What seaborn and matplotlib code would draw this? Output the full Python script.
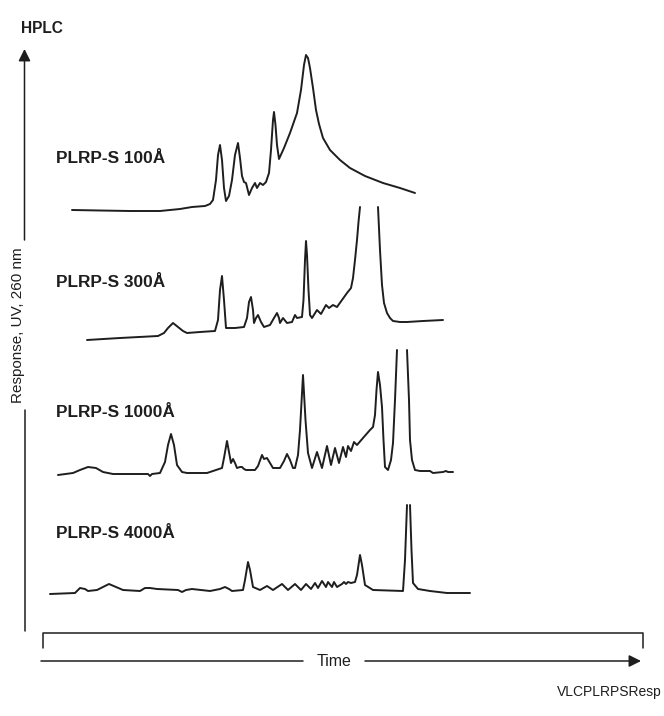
import numpy as np
import pandas as pd
import seaborn as sns
import matplotlib.pyplot as plt

nan = np.nan

columns = ["PLRP-S 100Å", "PLRP-S 300Å", "PLRP-S 1000Å", "PLRP-S 4000Å"]

# retention time (arbitrary units) and UV response above each trace's baseline
time_100 = [72, 100, 130, 160, 180, 192, 205, 210, 213, 216,
            218, 220, 222, 224, 226, 229, 232, 235, 238, 240,
            242, 244, 246, 249, 252, 255, 257, 260, 263, 266,
            269, 271, 273, 274, 275.5, 277, 279, 284, 290, 297,
            301, 304, 306, 308, 310, 313, 316, 319, 323, 330,
            340, 350, 365, 383, 400, 415]
resp_100 = [1, 0.5, 0, 0, 2, 4, 5, 7, 11, 31,
            56, 66, 51, 23, 10, 15, 31, 56, 68, 53,
            35, 29, 28, 16, 23, 28, 23, 28, 26, 29,
            38, 61, 91, 99, 86, 66, 52, 63, 78, 98,
            121, 146, 156, 153, 143, 123, 101, 87, 73, 61,
            51, 43, 35, 28, 23, 18]

# nan marks where the off-scale peak is cut
time_300 = [87, 120, 158, 164, 168, 173, 178, 183, 187, 200,
            215, 218, 220, 222, 224, 226, 235, 244, 247, 249,
            251, 253, 254, 256, 258, 261, 264, 270, 274, 277,
            279, 280, 283, 287, 292, 295, 297, 302, 303.5, 305,
            306, 307, 308.5, 310, 312, 317, 321, 326, 329, 333,
            337, 342, 347, 351, 353, 355, 357, 358.5, 360,
            nan,
            378, 380, 382, 384, 387, 390, 393, 400, 407, 423, 443]
resp_300 = [0, 2, 4, 7, 12, 17, 13, 9, 7, 8,
            9, 20, 50, 64, 40, 12, 12, 13, 22, 38,
            43, 30, 17, 22, 25, 18, 13, 15, 22, 27,
            22, 17, 22, 17, 18, 25, 22, 23, 40, 80,
            99, 85, 50, 25, 22, 30, 26, 35, 32, 35,
            33, 40, 47, 52, 62, 80, 100, 118, 133,
            nan,
            133, 90, 55, 37, 27, 22, 19, 18, 18, 19, 20]

time_1000 = [58, 73, 80, 88, 96, 103, 113, 123, 148, 150,
             152, 160, 165, 168, 171, 174, 177, 182, 187, 207,
             222, 224, 227, 229, 231, 233, 235, 237, 240, 242,
             244, 246, 255, 258, 262, 264, 267, 270, 273, 280,
             284, 287, 290, 293, 295, 298, 300, 303, 305.5, 308,
             312, 317, 322, 327, 331, 335, 339, 343, 346, 348,
             351, 354, 357, 363, 370, 373, 375, 376.5, 378, 380,
             382, 383.5, 385, 388, 391, 393, 395, 397,
             nan,
             407, 409, 410, 412, 415, 420, 430, 433, 443, 446, 448, 453]
resp_1000 = [0, 2, 5, 8, 7, 3, 1, 1, 1, -1,
             1, 2, 13, 30, 41, 30, 10, 3, 2, 2,
             7, 17, 34, 23, 12, 16, 12, 7, 8, 8,
             6, 5, 5, 9, 20, 16, 17, 12, 7, 7,
             14, 21, 15, 7, 7, 20, 45, 100, 55, 22,
             7, 23, 7, 29, 10, 27, 12, 28, 18, 29,
             24, 33, 30, 37, 45, 48, 60, 85, 103, 90,
             68, 35, 8, 5, 15, 32, 75, 125,
             nan,
             125, 75, 35, 15, 5, 4, 4, 2, 3, 4, 3, 3]

time_4000 = [50, 75, 80, 85, 88, 97, 103, 109, 116, 123,
             140, 145, 150, 157, 178, 182, 186, 192, 210, 220,
             225, 229, 232, 243, 245, 248, 250, 253, 260, 267,
             273, 282, 288, 295, 301, 306, 311, 315, 318, 322,
             326, 328, 332, 334, 337, 342, 344, 346, 348, 351,
             355, 357, 360, 362, 365, 373, 403, 405, 407,
             nan,
             410, 411.5, 413, 418, 430, 447, 470]
resp_4000 = [0, 1, 6, 5, 3, 4, 7, 10, 7, 4,
             3, 6, 6, 5, 4, 2, 4, 5, 3, 5,
             7, 5, 3, 4, 14, 32, 24, 7, 4, 8,
             4, 10, 4, 10, 4, 10, 5, 11, 6, 13,
             7, 12, 7, 12, 7, 10, 12, 10, 12, 11,
             12, 19, 39, 29, 9, 4, 3, 34, 89,
             nan,
             89, 44, 11, 5, 3, 1, 1]

times = [time_100, time_300, time_1000, time_4000]
responses = [resp_100, resp_300, resp_1000, resp_4000]

# layout: where each trace sits on the page and where its label goes
baselines = [211, 340, 475, 594]
label_y = [163, 287, 417, 538]
INK = "#1e1e1e"

sns.set_style("white")
plt.rcParams["font.family"] = ["Liberation Sans", "DejaVu Sans"]

fig = plt.figure(figsize=(6.64, 7.16), dpi=100)
ax = fig.add_axes([0, 0, 1, 1])

for i, name in enumerate(columns):
    df = pd.DataFrame({"time": times[i], "response": responses[i]})
    df["seg"] = df["time"].isna().cumsum()
    df = df.dropna()
    df["y"] = baselines[i] - df["response"]
    sns.lineplot(data=df, x="time", y="y", units="seg", estimator=None,
                 sort=False, color=INK, lw=1.4, ax=ax, legend=False)
    ax.text(56, label_y[i], name, fontsize=12.4, fontweight="bold",
            color=INK, ha="left", va="baseline")

ax.set_xlim(0, 664)
ax.set_ylim(716, 0)
ax.axis("off")

# response axis with arrow, broken around its label
ax.plot([24.5, 24.5], [410, 631], color=INK, lw=1.1)
ax.annotate("", xy=(24.5, 49), xytext=(24.5, 240),
            arrowprops=dict(arrowstyle="-|>", color=INK, lw=1.1,
                            mutation_scale=18, shrinkA=0, shrinkB=0))
ax.text(18, 325, "Response, UV, 260 nm", rotation=90, fontsize=11,
        color=INK, ha="center", va="center")
ax.text(21, 33, "HPLC", fontsize=11.2, fontweight="bold", color=INK,
        ha="left", va="baseline")

# time bracket and arrow
ax.plot([43, 43, 643, 643], [648, 633, 633, 648], color=INK, lw=1.1)
ax.plot([41, 303], [661, 661], color=INK, lw=1.1)
ax.annotate("", xy=(641, 661), xytext=(365, 661),
            arrowprops=dict(arrowstyle="-|>", color=INK, lw=1.1,
                            mutation_scale=18, shrinkA=0, shrinkB=0))
ax.text(334.5, 666, "Time", fontsize=11.5, color=INK, ha="center",
        va="baseline")
ax.text(662, 696, "VLCPLRPSResp", fontsize=10, color=INK,
        ha="right", va="baseline")

fig.savefig("out.png", dpi=100)
